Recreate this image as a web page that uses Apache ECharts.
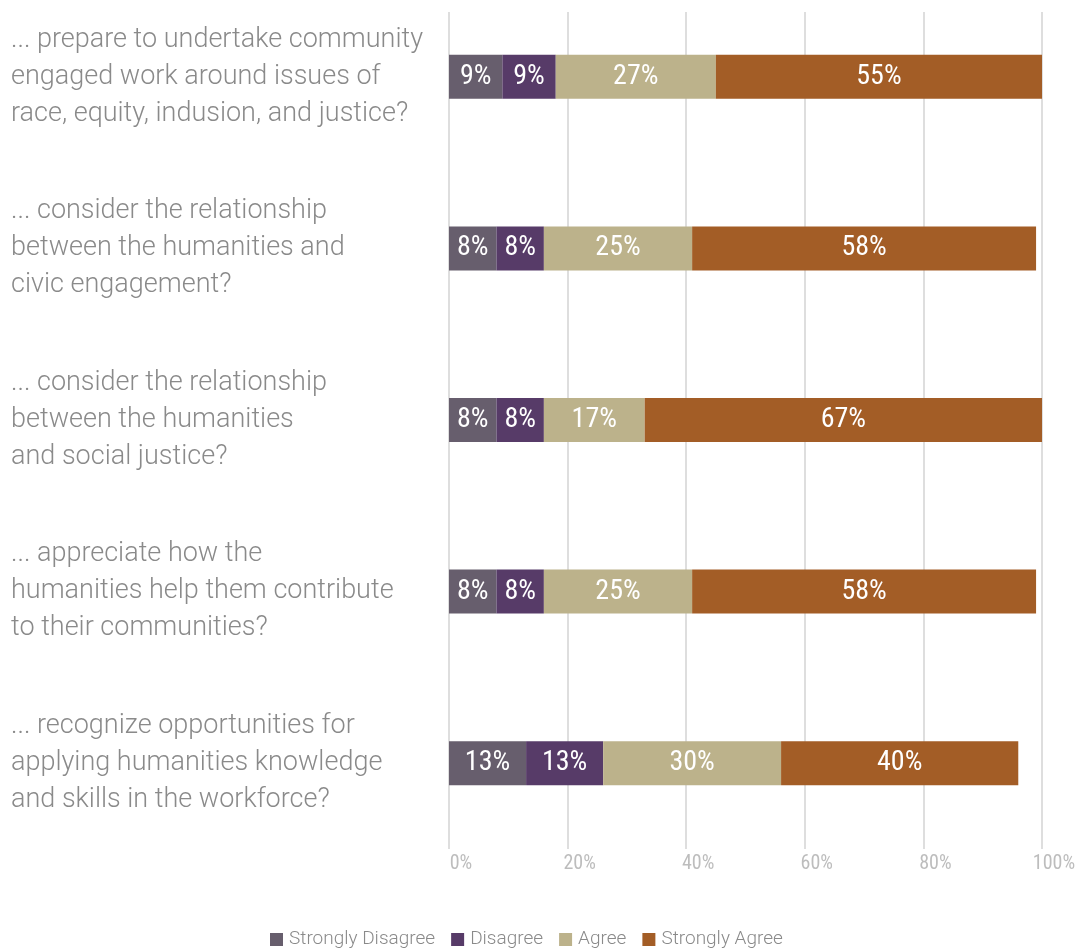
<!DOCTYPE html>
<html>
<head>
<meta charset="utf-8">
<script src="https://cdn.jsdelivr.net/npm/echarts@6/dist/echarts.min.js"></script>
<style>
  html, body { margin: 0; padding: 0; background: #fff; }
  #chart { width: 1076px; height: 952px; }
</style>
</head>
<body>
<div id="chart"></div>
<script>
// Survey items (top to bottom)
const categories = [
  "... prepare to undertake community\nengaged work around issues of\nrace, equity, indusion, and justice?",
  "... consider the relationship\nbetween the humanities and\ncivic engagement?",
  "... consider the relationship\nbetween the humanities\nand social justice?",
  "... appreciate how the\nhumanities help them contribute\nto their communities?",
  "... recognize opportunities for\napplying humanities knowledge\nand skills in the workforce?"
];

// Response shares (%) per item
const stronglyDisagree = [9, 8, 8, 8, 13];
const disagree = [9, 8, 8, 8, 13];
const agree = [27, 25, 17, 25, 30];
const stronglyAgree = [55, 58, 67, 58, 40];

const seriesNames = ["Strongly Disagree", "Disagree", "Agree", "Strongly Agree"];
const seriesColors = ["#675e6d", "#573b68", "#bcb28b", "#a35d26"];
const seriesValues = [stronglyDisagree, disagree, agree, stronglyAgree];

// Percent axis
const axisMin = 0;
const axisMax = 100;
const axisStep = 20;

const condensed = "'Roboto Condensed', 'Liberation Sans Narrow', 'DejaVu Sans Condensed', Roboto, sans-serif";

const chart = echarts.init(document.getElementById('chart'), null, { renderer: 'canvas' });

const option = {
  animation: false,
  backgroundColor: '#ffffff',
  grid: [
    // bars (band centres spaced evenly; the first band runs slightly above the canvas)
    { left: 449, right: 34, bottom: 103, height: 858, outerBoundsMode: 'none', containLabel: false },
    // vertical guide lines and percent labels
    { left: 449, right: 34, top: 12, bottom: 103, outerBoundsMode: 'none', containLabel: false }
  ],
  legend: {
    data: seriesNames,
    left: 265,
    top: 925,
    icon: 'rect',
    itemWidth: 13,
    itemHeight: 13,
    itemGap: 16,
    textStyle: { color: '#8a8a8a', fontSize: 19, fontFamily: 'Roboto', fontWeight: 300, padding: [0, 0, 0, 1] }
  },
  xAxis: [
    {
      gridIndex: 0, type: 'value', min: axisMin, max: axisMax, interval: axisStep,
      show: false
    },
    {
      gridIndex: 1, type: 'value', min: axisMin, max: axisMax, interval: axisStep,
      position: 'bottom',
      axisLine: { show: false },
      axisTick: { show: false },
      splitLine: { show: true, lineStyle: { color: '#dedede', width: 2 } },
      axisLabel: {
        formatter: '{value}%',
        color: '#bdbdbd',
        fontSize: 20,
        fontFamily: condensed,
        margin: 5,
        align: 'center',
        padding: [0, 0, 0, 24]
      }
    }
  ],
  yAxis: [
    {
      gridIndex: 0, type: 'category', data: categories, inverse: true,
      axisLine: { show: false },
      axisTick: { show: false },
      splitLine: { show: false },
      axisLabel: {
        align: 'left',
        margin: 438,
        color: '#8a8a8a',
        fontSize: 27,
        fontFamily: 'Roboto',
        fontWeight: 300,
        lineHeight: 37
      }
    },
    {
      gridIndex: 1, type: 'category', data: categories, show: false
    }
  ],
  series: seriesValues.map((vals, i) => ({
    name: seriesNames[i],
    type: 'bar',
    stack: 'total',
    xAxisIndex: 0,
    yAxisIndex: 0,
    barWidth: 44,
    data: vals,
    itemStyle: { color: seriesColors[i] },
    label: {
      show: true,
      position: 'inside',
      formatter: '{c}%',
      color: '#ffffff',
      fontSize: 28,
      fontFamily: condensed
    }
  }))
};

chart.setOption(option);
</script>
</body>
</html>
